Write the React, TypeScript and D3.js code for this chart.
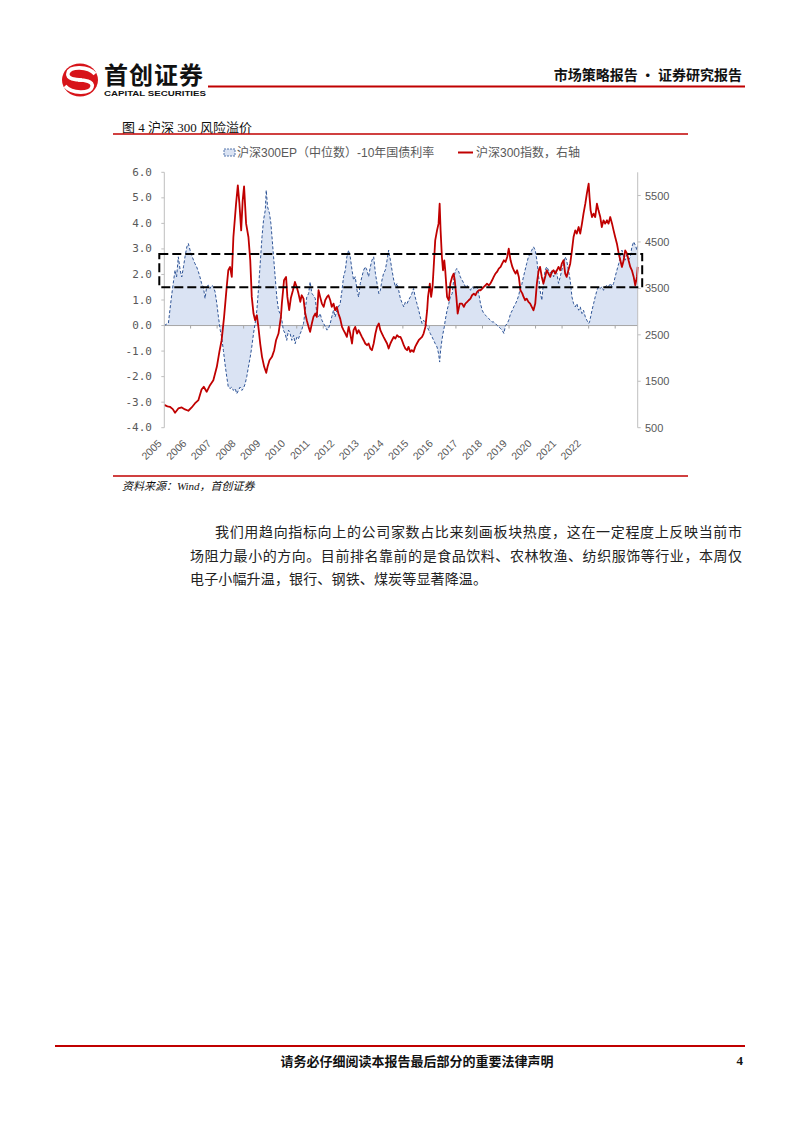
import React from "react";
import * as d3 from "d3";

// [months since Jan 2005, CSI 300 index level] (right axis)
const csi300Index: [number, number][] = [
  [0.1, 990], [1.5, 960], [2.7, 950], [4, 900], [5, 821], [5.8, 870], [6.5, 914], [8, 936], [9.5, 893], [11, 865],
  [12.5, 936], [14, 1022], [15.6, 1094], [17, 1323], [18, 1381], [19.3, 1273], [20.8, 1416], [22.3, 1524], [23.9, 1811],
  [25, 2133], [26.1, 2384], [27.2, 2886], [28.4, 3531], [29.1, 3890], [29.9, 3962], [30.7, 3747], [31.4, 4607],
  [32.6, 5324], [33.4, 5718], [34.1, 5324], [34.9, 4750], [35.6, 5396], [36.2, 5697], [37.1, 4894], [38.2, 4607],
  [39, 4105], [39.7, 3317], [40.5, 2958], [41.2, 2815], [42, 2922], [42.7, 2671], [43.5, 2313], [44.3, 2026],
  [45.3, 1811], [46.2, 1682], [46.8, 1811], [47.7, 1954], [48.8, 2026], [49.8, 2169], [50.7, 2384], [51.8, 2528],
  [52.9, 2886], [53.3, 3173], [54.3, 3675], [55.2, 3747], [55.8, 3317], [56.6, 3030], [57.4, 3300], [58.3, 3460],
  [59.2, 3639], [60, 3531], [60.8, 3388], [61.6, 3209], [62.3, 3352], [63.1, 3280], [63.9, 2958], [64.6, 2815],
  [65.4, 2671], [66.1, 2564], [66.9, 2743], [67.6, 2886], [68.4, 2958], [69.1, 2886], [69.9, 3460], [70.6, 3317],
  [71.4, 3173], [72.2, 3101], [72.9, 3245], [73.7, 3317], [74.4, 3352], [75.2, 3245], [75.9, 3101], [76.7, 3173],
  [77.4, 3030], [78.2, 3101], [78.9, 2958], [79.7, 2850], [80.5, 2671], [81.2, 2600], [82, 2528], [82.7, 2456],
  [83.5, 2671], [84.2, 2528], [85, 2313], [85.7, 2600], [86.5, 2671], [87.3, 2528], [88, 2600], [88.8, 2528],
  [89.5, 2456], [90.3, 2384], [91, 2313], [91.8, 2277], [92.5, 2313], [93.3, 2205], [94, 2169], [94.8, 2313],
  [95.6, 2528], [96.3, 2671], [97.1, 2743], [97.8, 2600], [98.6, 2528], [99.3, 2456], [100.1, 2384], [100.9, 2313],
  [101.6, 2205], [102.4, 2313], [103.1, 2384], [103.9, 2456], [104.6, 2420], [105.4, 2492], [106.1, 2456],
  [106.9, 2456], [107.6, 2384], [108.4, 2277], [109.1, 2205], [109.9, 2169], [110.6, 2241], [111.4, 2133],
  [112.1, 2169], [112.9, 2133], [113.6, 2241], [114.4, 2313], [115.2, 2384], [115.9, 2420], [116.7, 2456],
  [117.4, 2528], [118.2, 2671], [119, 3030], [119.4, 3317], [120.2, 3603], [120.8, 3317], [121.4, 3531],
  [122, 3962], [122.7, 4535], [123.5, 4750], [124.2, 4894], [124.7, 5324], [125.1, 4750], [125.7, 4177],
  [126.2, 3890], [126.8, 4105], [127.2, 3890], [128, 3317], [128.8, 3245], [129.5, 3603], [130.3, 3747],
  [131, 3818], [131.5, 3675], [132.2, 3317], [132.8, 2958], [133.7, 3173], [134.8, 3173], [135.6, 3101],
  [136.3, 3173], [137.1, 3209], [137.8, 3245], [138.6, 3280], [139.3, 3352], [140.1, 3388], [140.8, 3352],
  [141.6, 3424], [142.3, 3460], [143.1, 3460], [143.9, 3496], [144.6, 3531], [145.4, 3567], [146.1, 3603],
  [146.9, 3567], [147.6, 3603], [148.4, 3675], [149.1, 3747], [149.9, 3818], [150.6, 3854], [151.4, 3926],
  [152.2, 3962], [152.9, 4033], [153.7, 4105], [154.4, 4069], [155.2, 4177], [155.9, 4356], [156.7, 4105],
  [157.5, 3962], [158.2, 3890], [159, 3818], [159.7, 3890], [160.5, 3747], [161.2, 3460], [162.1, 3388],
  [162.6, 3320], [163.3, 3245], [164, 3280], [164.8, 3209], [165.6, 3173], [166.3, 3101], [167.1, 3030],
  [167.9, 3173], [168.6, 3603], [169.4, 3890], [170.1, 3962], [170.9, 3747], [171.6, 3603], [172.4, 3747],
  [173.1, 3890], [173.9, 3818], [174.7, 3747], [175.4, 3854], [176.2, 3890], [176.9, 3818], [177.7, 3890],
  [178.4, 3962], [179.2, 3890], [179.9, 4033], [180.7, 4105], [181.4, 3818], [182.1, 3747], [182.9, 3890],
  [183.7, 4033], [184.5, 4320], [185.2, 4607], [186, 4750], [186.7, 4680], [187.5, 4822], [188.2, 4680],
  [189, 4894], [189.7, 5109], [190.5, 5324], [191.2, 5539], [192, 5754], [192.4, 5467], [192.9, 5181],
  [193.5, 5037], [194.3, 5109], [195, 5037], [195.8, 5324], [196.5, 5181], [197.3, 5037], [198, 4822],
  [198.8, 4966], [199.5, 4894], [200.3, 4966], [201, 4894], [201.8, 5037], [202.6, 4894], [203.3, 4750],
  [204, 4607], [204.8, 4463], [205.6, 4248], [206.4, 4105], [207.1, 3962], [207.9, 4105], [208.6, 4320],
  [209.4, 4248], [210.1, 4105], [210.9, 3962], [211.6, 3890], [212.4, 3747], [213.1, 3567], [213.9, 3747],
  [214.2, 3962],
];

// [months since Jan 2005, CSI300 EP (median) - 10Y government bond yield] (left axis)
const riskPremium: [number, number][] = [
  [0.1, 0.0], [1, 0.05], [2, 0.08], [2.7, 0.6], [3.5, 1.2], [4.2, 1.65], [5, 2.17], [5.7, 1.9], [6.5, 2.69],
  [7.3, 2.17], [8, 1.9], [8.8, 2.3], [9.5, 2.69], [10.3, 3.08], [11, 3.21], [11.8, 2.95], [12.5, 2.75],
  [13.3, 2.56], [14, 2.43], [14.8, 2.3], [15.6, 2.1], [16.3, 1.9], [17, 1.65], [17.8, 1.52], [18.6, 1.06],
  [19.3, 1.52], [20, 1.58], [20.8, 1.45], [21.6, 1.58], [22.3, 1.52], [23.1, 1.32], [23.9, 0.86], [24.6, 0.34],
  [25.4, -0.18], [26.1, -0.45], [26.9, -0.97], [27.6, -1.49], [28.4, -2.0], [29.1, -2.41], [29.9, -2.47],
  [30.7, -2.41], [31.4, -2.54], [32.2, -2.47], [32.9, -2.67], [33.7, -2.54], [34.4, -2.41], [35.2, -2.54],
  [35.9, -2.47], [36.7, -2.28], [37.4, -2.0], [38.2, -1.62], [39, -1.23], [39.7, -0.84], [40.5, -0.31],
  [41.2, 0.08], [42, 0.6], [42.7, 1.38], [43.5, 2.43], [44.3, 3.48], [45, 4.13], [45.8, 4.52], [46.2, 5.3],
  [46.8, 4.65], [47.7, 4.39], [48.3, 4.0], [48.8, 3.48], [49.5, 2.69], [50.3, 1.9], [51, 1.12], [51.8, 0.6],
  [52.5, 0.47], [53.3, 0.21], [54, -0.18], [54.8, -0.31], [55.5, -0.58], [56.3, -0.18], [57, -0.31],
  [57.8, -0.58], [58.6, -0.38], [59.3, -0.71], [60.1, -0.45], [60.8, -0.52], [61.6, -0.31], [62.3, -0.18],
  [63.1, 0.08], [63.9, 0.6], [64.6, 1.12], [65.4, 1.25], [66.1, 1.71], [66.9, 1.25], [67.6, 1.19], [68.4, 1.06],
  [69.1, 0.47], [69.9, 0.34], [70.6, 0.47], [71.4, 0.21], [72.2, 0.08], [72.9, -0.05], [73.7, -0.18],
  [74.4, -0.12], [75.2, 0.08], [75.9, 0.34], [76.7, 0.6], [77.4, 0.34], [78.2, 0.6], [78.9, 0.73], [79.7, 0.86],
  [80.5, 1.38], [81.2, 1.91], [82, 2.17], [82.7, 2.69], [83.5, 2.95], [84.2, 2.69], [85, 2.17], [85.7, 1.78],
  [86.5, 1.91], [87.3, 1.38], [88, 1.12], [88.8, 1.65], [89.5, 1.91], [90.3, 2.17], [91, 2.3], [91.8, 2.17],
  [92.5, 1.91], [93.3, 2.3], [94, 2.56], [94.8, 2.69], [95.6, 2.04], [96.3, 1.65], [97.1, 1.25], [97.8, 1.38],
  [98.6, 1.78], [99.3, 2.04], [100.1, 2.17], [100.9, 2.56], [101.6, 2.95], [102.4, 2.56], [103.1, 2.17],
  [103.9, 1.78], [104.6, 1.52], [105.4, 1.65], [106.1, 1.38], [106.9, 1.05], [107.6, 0.9], [108.4, 0.73],
  [109.1, 0.92], [109.9, 0.86], [110.6, 0.99], [111.4, 1.12], [112.1, 1.25], [112.9, 1.45], [113.6, 1.12],
  [114.4, 0.86], [115.2, 0.6], [115.9, 0.34], [116.7, 0.08], [117.4, 0.21], [118.2, 0.08], [119, -0.05],
  [119.7, -0.18], [120.4, -0.31], [121.2, -0.45], [122, -0.58], [122.7, -0.71], [123.5, -0.84], [124.2, -1.1],
  [124.7, -1.43], [125.1, -0.97], [125.7, -0.58], [126.2, -0.31], [126.8, -0.05], [127.2, 0.21], [128, 0.6],
  [128.8, 0.86], [129.5, 1.12], [130.3, 1.25], [131, 1.78], [131.8, 2.17], [132.5, 2.23], [133.3, 2.1],
  [134, 1.91], [134.8, 1.78], [135.6, 1.65], [136.3, 1.52], [137.1, 1.58], [137.8, 1.45], [138.6, 1.38],
  [139.3, 1.52], [140.1, 1.45], [140.8, 1.49], [141.6, 1.52], [142.3, 1.25], [143.1, 0.86], [143.9, 0.6],
  [144.6, 0.47], [145.4, 0.4], [146.1, 0.34], [146.9, 0.27], [147.6, 0.21], [148.4, 0.14], [149.1, 0.14],
  [149.9, 0.08], [150.6, 0.01], [151.4, -0.05], [152.2, -0.12], [152.9, -0.18], [153.7, -0.31], [154.4, 0.0],
  [155.2, 0.08], [155.9, 0.21], [156.7, 0.47], [157.5, 0.6], [158.2, 0.73], [159, 0.86], [159.7, 0.99],
  [160.5, 1.2], [161.2, 1.52], [161.8, 1.6], [162.6, 1.91], [163.3, 2.17], [164, 2.43], [164.8, 2.69],
  [165.6, 2.82], [166.3, 2.95], [167.1, 3.08], [167.9, 2.95], [168.6, 2.56], [169.4, 1.91], [170.1, 1.38],
  [170.9, 0.99], [171.6, 1.65], [172.4, 2.17], [173.1, 2.3], [173.9, 2.17], [174.7, 2.04], [175.4, 2.17],
  [176.2, 1.91], [176.9, 2.17], [177.7, 2.04], [178.4, 1.65], [179.2, 1.91], [179.9, 2.17], [180.7, 2.43],
  [181.4, 2.69], [182.1, 2.56], [182.9, 2.17], [183.7, 1.78], [184.5, 1.12], [185.2, 0.86], [186, 0.73],
  [186.7, 0.86], [187.5, 0.6], [188.2, 0.73], [189, 0.47], [189.7, 0.6], [190.5, 0.34], [191.2, 0.21],
  [192, 0.08], [192.4, 0.14], [192.9, 0.34], [193.5, 0.6], [194.3, 0.86], [195, 1.12], [195.8, 1.38],
  [196.5, 1.52], [197.3, 1.45], [198, 1.52], [198.8, 1.38], [199.5, 1.52], [200.3, 1.58], [201, 1.52],
  [201.8, 1.65], [202.6, 1.52], [203.3, 1.65], [204, 1.91], [204.8, 2.17], [205.6, 2.43], [206.4, 2.69],
  [207.1, 2.95], [207.9, 2.69], [208.6, 2.56], [209.4, 2.82], [210.1, 2.56], [210.9, 2.69], [211.6, 3.08],
  [212.4, 3.28], [213.1, 3.15], [213.9, 2.95], [214.2, 3.2],
];

const yearLabels = [
  "2005", "2006", "2007", "2008", "2009", "2010", "2011", "2012", "2013",
  "2014", "2015", "2016", "2017", "2018", "2019", "2020", "2021", "2022",
];
const leftTicks = [-4, -3, -2, -1, 0, 1, 2, 3, 4, 5, 6];
const rightTicks = [500, 1500, 2500, 3500, 4500, 5500];
const highlightBand = [1.5, 2.8];

const legendLabels = ["沪深300EP（中位数）-10年国债利率", "沪深300指数，右轴"];
const titleText = "图 4 沪深 300 风险溢价";
const sourceText = "资料来源：Wind，首创证券";
const bodyLines = [
  "我们用趋向指标向上的公司家数占比来刻画板块热度，这在一定程度上反映当前市",
  "场阻力最小的方向。目前排名靠前的是食品饮料、农林牧渔、纺织服饰等行业，本周仅",
  "电子小幅升温，银行、钢铁、煤炭等显著降温。",
];

const monthToDate = (m: number) => {
  const whole = Math.floor(m);
  const d = new Date(2005, whole, 1);
  d.setDate(1 + Math.round((m - whole) * 30));
  return d;
};

const RED = "#C00000";
const BLUE = "#2F5597";
const FILL = "#DAE3F3";
const AXIS = "#BFBFBF";
const TXT = "#595959";
const CJK = "'Noto Sans CJK SC', sans-serif";

export default function App() {
  const plotL = 164.3, plotR = 637.7, plotT = 172.3, plotB = 427.7;
  const x = d3
    .scaleTime()
    .domain([monthToDate(0.1), monthToDate(214.2)])
    .range([plotL, plotR]);
  const yL = d3.scaleLinear().domain([-4, 6]).range([plotB, plotT]);
  const yR = d3.scaleLinear().domain([500, 6000]).range([plotB, plotT]);
  const labelX = d3.scalePoint<string>().domain(yearLabels).range([161.5, 580.6]);

  const area = d3
    .area<[number, number]>()
    .x((d) => x(monthToDate(d[0])))
    .y0(yL(0))
    .y1((d) => yL(d[1]));
  const blueLine = d3
    .line<[number, number]>()
    .x((d) => x(monthToDate(d[0])))
    .y((d) => yL(d[1]));
  const redLine = d3
    .line<[number, number]>()
    .x((d) => x(monthToDate(d[0])))
    .y((d) => yR(d[1]));

  const yearTicks = d3.timeYear.range(monthToDate(1), monthToDate(214.2));
  const bandTop = yL(highlightBand[1]);
  const bandBot = yL(highlightBand[0]);

  return (
    <svg
      width={802}
      height={1133}
      style={{ position: "absolute", left: 0, top: 0, background: "#fff" }}
    >
      <rect x={0} y={0} width={802} height={1133} fill="#fff" />
      {/* Header logo */}
      <g>
        <ellipse cx={80} cy={80} rx={18} ry={16.5} fill="#D7141A" />
        <path d="M95 74 C88 66, 70 66, 68 73 C66 79, 76 80, 82 80" fill="none" stroke="#fff" strokeWidth={3.6} />
        <path d="M65 86 C72 94, 90 94, 92 87 C94 81, 84 80, 78 80" fill="none" stroke="#fff" strokeWidth={3.6} />
        <text x={104} y={83.5} fontFamily={CJK} fontWeight={700} fontSize={24} fill="#111" letterSpacing={1}>
          首创证券
        </text>
        <text
          x={104}
          y={95.5}
          fontFamily="'Liberation Sans', Arial, sans-serif"
          fontWeight={700}
          fontSize={8}
          fill="#111"
          textLength={102}
          lengthAdjust="spacingAndGlyphs"
        >
          CAPITAL SECURITIES
        </text>
        <line x1={208} x2={745} y1={86.5} y2={86.5} stroke={RED} strokeWidth={2} />
        <text x={742} y={80} textAnchor="end" fontFamily={CJK} fontWeight={700} fontSize={14} fill="#111">
          市场策略报告 · 证券研究报告
        </text>
      </g>

      {/* Title */}
      <text x={122} y={127} dominantBaseline="central" fontFamily={`'Liberation Serif', ${CJK}`} fontSize={13} fill="#111">
        {titleText}
      </text>
      <line x1={113} x2={688} y1={134} y2={134} stroke={RED} strokeWidth={1.5} />

      {/* Legend */}
      <rect x={224} y={149} width={11} height={7} fill={FILL} stroke={BLUE} strokeWidth={0.8} strokeDasharray="2,1" />
      <text x={237} y={152.5} dominantBaseline="central" fontFamily={`'Liberation Sans', ${CJK}`} fontSize={12} fill={TXT}>
        {legendLabels[0]}
      </text>
      <line x1={458} x2={473} y1={152.5} y2={152.5} stroke={RED} strokeWidth={2} />
      <text x={476} y={152.5} dominantBaseline="central" fontFamily={`'Liberation Sans', ${CJK}`} fontSize={12} fill={TXT}>
        {legendLabels[1]}
      </text>

      {/* Plot */}
      <path d={area(riskPremium) || ""} fill={FILL} />
      <line x1={plotL} x2={plotR} y1={yL(0)} y2={yL(0)} stroke="#A6A6A6" strokeWidth={1} />
      {yearTicks.map((d, i) => (
        <line key={i} x1={x(d)} x2={x(d)} y1={yL(0)} y2={yL(0) + 3} stroke="#A6A6A6" strokeWidth={1} />
      ))}
      <path d={blueLine(riskPremium) || ""} fill="none" stroke={BLUE} strokeWidth={1} strokeDasharray="3,2" />
      <path d={redLine(csi300Index) || ""} fill="none" stroke={RED} strokeWidth={1.8} strokeLinejoin="round" />

      {/* Left axis */}
      <line x1={plotL} x2={plotL} y1={plotT} y2={plotB} stroke={AXIS} strokeWidth={1} />
      {leftTicks.map((t) => (
        <g key={t}>
          <line x1={plotL - 3} x2={plotL} y1={yL(t)} y2={yL(t)} stroke={AXIS} />
          <text
            x={152}
            y={yL(t)}
            textAnchor="end"
            dominantBaseline="central"
            fontFamily="'DejaVu Sans Mono', monospace"
            fontSize={11}
            fill={TXT}
          >
            {t.toFixed(1)}
          </text>
        </g>
      ))}

      {/* Right axis */}
      <line x1={plotR} x2={plotR} y1={plotT} y2={plotB} stroke={AXIS} strokeWidth={1} />
      {rightTicks.map((t) => (
        <g key={t}>
          <line x1={plotR} x2={plotR + 3} y1={yR(t)} y2={yR(t)} stroke={AXIS} />
          <text
            x={645}
            y={yR(t)}
            dominantBaseline="central"
            fontFamily="'Liberation Sans', Arial, sans-serif"
            fontSize={11}
            fill={TXT}
          >
            {t}
          </text>
        </g>
      ))}

      {/* X labels */}
      {yearLabels.map((l) => (
        <text
          key={l}
          transform={`translate(${(labelX(l) || 0) + 1},444) rotate(-45)`}
          textAnchor="end"
          fontFamily="'Liberation Sans', Arial, sans-serif"
          fontSize={10.5}
          fill={TXT}
        >
          {l}
        </text>
      ))}

      {/* Highlight band */}
      <rect
        x={plotL - 5}
        y={bandTop}
        width={plotR - plotL + 9.5}
        height={bandBot - bandTop}
        fill="none"
        stroke="#000"
        strokeWidth={2}
        strokeDasharray="9,4"
      />

      {/* Source */}
      <line x1={113} x2={688} y1={476} y2={476} stroke={RED} strokeWidth={1.5} />
      <text x={122} y={486} dominantBaseline="central" fontFamily={`'Liberation Serif', ${CJK}`} fontStyle="italic" fontSize={11} fill="#111">
        {sourceText}
      </text>

      {/* Body text */}
      <text x={215} y={531} dominantBaseline="central" fontFamily={CJK} fontSize={14} fill="#222" textLength={527} lengthAdjust="spacing">
        {bodyLines[0]}
      </text>
      <text x={190} y={554.5} dominantBaseline="central" fontFamily={CJK} fontSize={14} fill="#222" textLength={552} lengthAdjust="spacing">
        {bodyLines[1]}
      </text>
      <text x={190} y={578} dominantBaseline="central" fontFamily={CJK} fontSize={14} fill="#222" letterSpacing={0.15}>
        {bodyLines[2]}
      </text>

      {/* Footer */}
      <line x1={55} x2={745} y1={1046} y2={1046} stroke={RED} strokeWidth={2} />
      <text x={417} y={1060} textAnchor="middle" dominantBaseline="central" fontFamily={CJK} fontWeight={700} fontSize={13} fill="#111">
        请务必仔细阅读本报告最后部分的重要法律声明
      </text>
      <text x={743} y={1060} textAnchor="end" dominantBaseline="central" fontFamily="'Liberation Serif', serif" fontWeight={700} fontSize={13} fill="#111">
        4
      </text>
    </svg>
  );
}
